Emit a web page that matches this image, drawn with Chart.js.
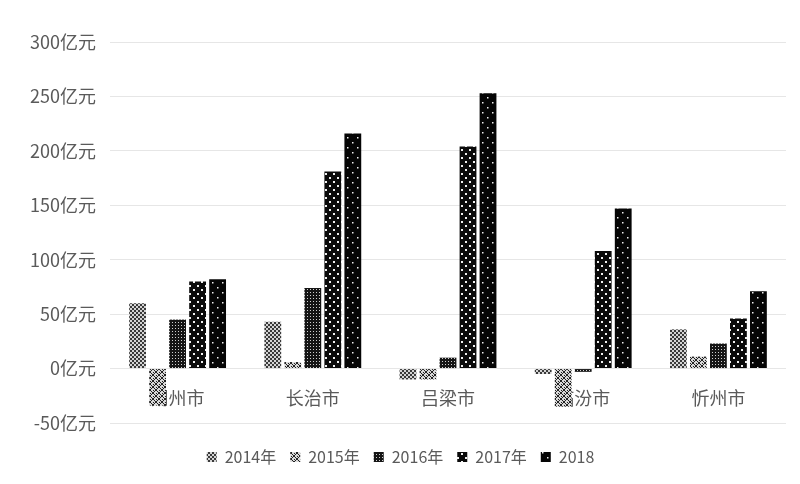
<!DOCTYPE html>
<html>
<head>
<meta charset="utf-8">
<script src="https://cdn.jsdelivr.net/npm/chart.js@4.4.1/dist/chart.umd.min.js"></script>
<style>
  html, body { margin: 0; padding: 0; background: #ffffff; }
  #wrap { width: 800px; height: 484px; }
</style>
</head>
<body>
<div id="wrap"><canvas id="c" width="800" height="484"></canvas></div>
<script>
// 山西五市财政收入增量（亿元）
const cities = ['朔州市', '长治市', '吕梁市', '临汾市', '忻州市'];
const seriesNames = ['2014年', '2015年', '2016年', '2017年', '2018'];
const v2014 = [60, 43, -10, -5, 36];
const v2015 = [-34, 6, -10, -35, 11];
const v2016 = [45, 74, 10, -3, 23];
const v2017 = [80, 181, 204, 108, 46];
const v2018 = [82, 216, 253, 147, 71];
const yMin = -50, yMax = 300, yStep = 50;
const yUnit = '亿元';

// Monochrome fill patterns, one per year
function makePattern(size, painter) {
  const c = document.createElement('canvas');
  c.width = size; c.height = size;
  const g = c.getContext('2d');
  painter(g, size);
  return g.createPattern(c, 'repeat');
}
const patterns = [
  // fine checker, mid grey
  makePattern(4, (g) => {
    g.fillStyle = '#d4d4d4'; g.fillRect(0, 0, 4, 4);
    g.fillStyle = '#3a3a3a'; g.fillRect(0, 0, 2, 2); g.fillRect(2, 2, 2, 2);
  }),
  // diamond lattice
  makePattern(6, (g) => {
    g.fillStyle = '#d8d8d8'; g.fillRect(0, 0, 6, 6);
    g.fillStyle = '#222222';
    for (let i = 0; i < 6; i++) {
      g.fillRect(i, i, 1, 1);
      g.fillRect(5 - i, i, 1, 1);
    }
    g.fillRect(3, 0, 1, 1); g.fillRect(0, 3, 1, 1);
  }),
  // dense dark grid with small light dots
  makePattern(3, (g) => {
    g.fillStyle = '#151515'; g.fillRect(0, 0, 3, 3);
    g.fillStyle = '#cfcfcf'; g.fillRect(1, 1, 1, 1);
  }),
  // black with staggered white dots
  makePattern(8, (g) => {
    g.fillStyle = '#0a0a0a'; g.fillRect(0, 0, 8, 8);
    g.fillStyle = '#f0f0f0';
    g.fillRect(1, 1, 2, 2); g.fillRect(5, 5, 2, 2);
  }),
  // black with sparser white dots
  makePattern(10, (g) => {
    g.fillStyle = '#050505'; g.fillRect(0, 0, 10, 10);
    g.fillStyle = '#f0f0f0';
    g.fillRect(2, 2, 1.5, 1.5); g.fillRect(7, 7, 1.5, 1.5);
  })
];

const values = [v2014, v2015, v2016, v2017, v2018];
const datasets = seriesNames.map((name, i) => ({
  label: name,
  data: values[i],
  backgroundColor: patterns[i],
  borderWidth: 0,
  categoryPercentage: 0.74,
  barPercentage: 0.84
}));

const textColor = '#5a5a5a';
const cjkFont = '"Noto Sans CJK SC", "Noto Sans", sans-serif';

new Chart(document.getElementById('c'), {
  type: 'bar',
  data: { labels: cities, datasets },
  options: {
    responsive: false,
    animation: false,
    devicePixelRatio: 1,
    layout: { padding: { top: 42, right: 14, bottom: 9, left: 15 } },
    scales: {
      x: {
        position: { y: 0 },
        grid: { display: false, drawTicks: false },
        border: { display: false },
        ticks: {
          color: textColor,
          padding: 19,
          font: { family: cjkFont, size: 18 }
        }
      },
      y: {
        min: yMin,
        max: yMax,
        afterFit: (scale) => { scale.width = 95; },
        grid: { color: '#e6e6e6', lineWidth: 1, drawTicks: false },
        border: { display: false },
        ticks: {
          stepSize: yStep,
          color: textColor,
          padding: 14,
          font: { family: cjkFont, size: 18 },
          callback: (v) => v + yUnit
        }
      }
    },
    plugins: {
      tooltip: { enabled: false },
      legend: {
        position: 'bottom',
        title: { display: true, text: '', font: { size: 10 }, padding: 0 },
        labels: {
          color: textColor,
          boxWidth: 10,
          boxHeight: 10,
          padding: 14,
          font: { family: cjkFont, size: 16 }
        }
      }
    }
  }
});
</script>
</body>
</html>
